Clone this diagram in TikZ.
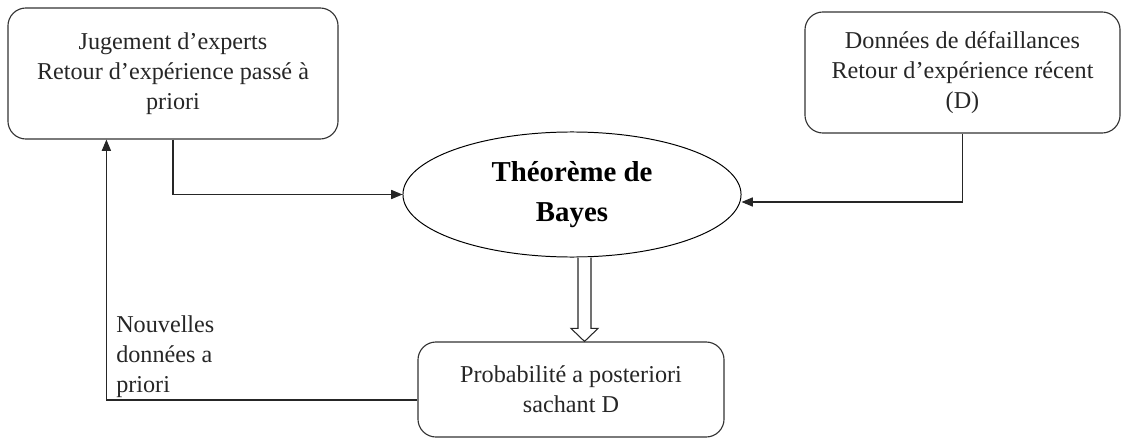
\documentclass[tikz,border=0pt]{standalone}
\usepackage{fontspec}
\setmainfont{Liberation Serif}
\usetikzlibrary{shapes.geometric,arrows.meta,calc}
\begin{document}
\begin{tikzpicture}[x=0.025cm,y=-0.025cm,
  every node/.style={text=black!85},
  rbox/.style={draw=black!80,line width=0.8pt,rounded corners=0.45cm,align=center,
    inner sep=0pt,font=\fontsize{17.2}{21.5}\selectfont},
  conn/.style={draw=black!85,line width=0.75pt},
  arr/.style={conn,-{Triangle[length=8pt,width=6.5pt]}},
  lbl/.style={align=left,inner sep=0pt,font=\fontsize{17.2}{21.5}\selectfont}]
\useasboundingbox (0,0) rectangle (1122,439);
\node[rbox,minimum width=8.25cm,minimum height=3.275cm] (b1) at (173,73.5)
  {Jugement d’experts\\Retour d’expérience passé à\\priori};
\node[rbox,minimum width=7.875cm,minimum height=3.025cm] (b3) at (962.5,72.5)
  {Données de défaillances\\Retour d’expérience récent\\(D)};
\node[draw=black,line width=0.7pt,ellipse,minimum width=8.45cm,minimum height=3.125cm,
  inner sep=0pt,align=center,text=black,font=\fontsize{20.5}{26}\selectfont\bfseries] (bay) at (572,194.5)
  {Théorème de\\[2pt]Bayes};
\node[rbox,minimum width=7.65cm,minimum height=2.375cm] (b4) at (571,389.5)
  {Probabilité a posteriori\\sachant D};
\node[lbl,anchor=south west] (nv) at (116,398) {Nouvelles\\données a\\priori};
% connectors
\draw[arr] (b1.south) |- (bay.west);
\coordinate (e3) at ($(bay.east)+(0,7.5)$);
\draw[arr] (b3.south) |- (e3);
\coordinate (fb) at ($(b4.west)+(0,10.5)$);
\coordinate (up) at ($(b1.south west)+(99,0)$);
\draw[arr] (fb) -| (up);
% hollow double arrow
\coordinate (ds) at ($(bay.south)+(12.5,0)$);
\coordinate (dt) at ($(b4.north)+(13.5,0)$);
\draw[black!85,line width=0.75pt,fill=white]
  ($(ds)+(-6.5,0)$) -- ($(dt)+(-6.5,-13)$) -- ($(dt)+(-13.5,-13)$) -- (dt)
  -- ($(dt)+(13.5,-13)$) -- ($(dt)+(6.5,-13)$) -- ($(ds)+(6.5,0)$);
\end{tikzpicture}
\end{document}
